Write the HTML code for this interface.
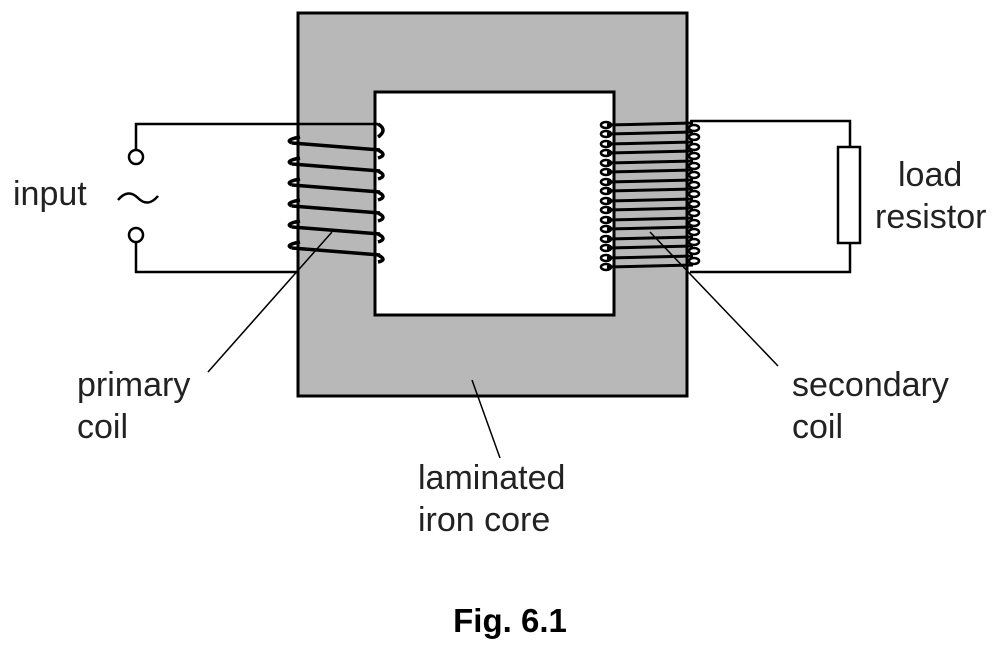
<!DOCTYPE html><html><head><style>body{margin:0;background:#fff}svg{display:block}text{font-family:"Liberation Sans",sans-serif;font-size:34px;fill:#222}</style></head><body>
<svg width="998" height="650" viewBox="0 0 998 650">
<path d="M298 13H687V396H298Z M375 92V315H614V92Z" fill="#b8b8b8" fill-rule="evenodd" stroke="#000" stroke-width="3"/>
<g stroke="#000" stroke-width="2.5" fill="none">
<path d="M136 150V124H378 M136 242V272H297 M850 147V121H690 M850 243V272H690"/>
<circle cx="136" cy="157" r="7"/><circle cx="136" cy="235" r="7"/>
<path d="M118 200 Q128 188 138 198 Q148 208 158 196"/>
<rect x="838" y="147" width="22" height="96"/>
</g>
<g stroke="#000" stroke-width="1.5" fill="none">
<path d="M332 232L208 372 M650 232L778 366 M472 380L500 458"/>
</g>
<g stroke="#000" stroke-width="3.5" fill="none">
<path d="M378 124Q388 130 378 137"/>
<path d="M292 143L380 150M292 164L380 171M292 185L380 192M292 206L380 213M292 227L380 234M292 248L380 255"/>
<path d="M300 137Q284 140 292 143M300 158Q284 161 292 164M300 179Q284 182 292 185M300 200Q284 203 292 206M300 221Q284 224 292 227M300 242Q284 245 292 248"/>
<path d="M378 150Q388 155 378 158M378 171Q388 176 378 179M378 192Q388 197 378 200M378 213Q388 218 378 221M378 234Q388 239 378 242M378 255Q388 260 378 262"/>
</g>
<g stroke="#000" stroke-width="3" fill="none">
<path d="M607 125L693 123M607 134L693 132M607 144L693 142M607 153L693 151M607 163L693 161M607 172L693 170M607 182L693 180M607 191L693 189M607 201L693 199M607 210L693 208M607 220L693 218M607 229L693 227M607 239L693 237M607 248L693 246M607 258L693 256M607 267L693 265"/>
<g stroke-width="2.5">
<ellipse cx="606" cy="125" rx="5" ry="3"/><ellipse cx="606" cy="134" rx="5" ry="3"/><ellipse cx="606" cy="144" rx="5" ry="3"/><ellipse cx="606" cy="153" rx="5" ry="3"/><ellipse cx="606" cy="163" rx="5" ry="3"/><ellipse cx="606" cy="172" rx="5" ry="3"/><ellipse cx="606" cy="182" rx="5" ry="3"/><ellipse cx="606" cy="191" rx="5" ry="3"/><ellipse cx="606" cy="201" rx="5" ry="3"/><ellipse cx="606" cy="210" rx="5" ry="3"/><ellipse cx="606" cy="220" rx="5" ry="3"/><ellipse cx="606" cy="229" rx="5" ry="3"/><ellipse cx="606" cy="239" rx="5" ry="3"/><ellipse cx="606" cy="248" rx="5" ry="3"/><ellipse cx="606" cy="258" rx="5" ry="3"/><ellipse cx="606" cy="267" rx="5" ry="3"/>
<ellipse cx="694" cy="128" rx="5" ry="3"/><ellipse cx="694" cy="137" rx="5" ry="3"/><ellipse cx="694" cy="147" rx="5" ry="3"/><ellipse cx="694" cy="156" rx="5" ry="3"/><ellipse cx="694" cy="166" rx="5" ry="3"/><ellipse cx="694" cy="175" rx="5" ry="3"/><ellipse cx="694" cy="185" rx="5" ry="3"/><ellipse cx="694" cy="194" rx="5" ry="3"/><ellipse cx="694" cy="204" rx="5" ry="3"/><ellipse cx="694" cy="213" rx="5" ry="3"/><ellipse cx="694" cy="223" rx="5" ry="3"/><ellipse cx="694" cy="232" rx="5" ry="3"/><ellipse cx="694" cy="242" rx="5" ry="3"/><ellipse cx="694" cy="251" rx="5" ry="3"/><ellipse cx="694" cy="261" rx="5" ry="3"/>
</g></g>
<text x="13" y="205">input</text>
<text x="898" y="186">load</text>
<text x="875" y="228">resistor</text>
<text x="77" y="396">primary</text>
<text x="77" y="438">coil</text>
<text x="792" y="396">secondary</text>
<text x="792" y="438">coil</text>
<text x="418" y="489">laminated</text>
<text x="418" y="531">iron core</text>
<text x="510" y="632" text-anchor="middle" style="font-weight:bold;font-size:33px;fill:#000">Fig. 6.1</text>
</svg></body></html>
